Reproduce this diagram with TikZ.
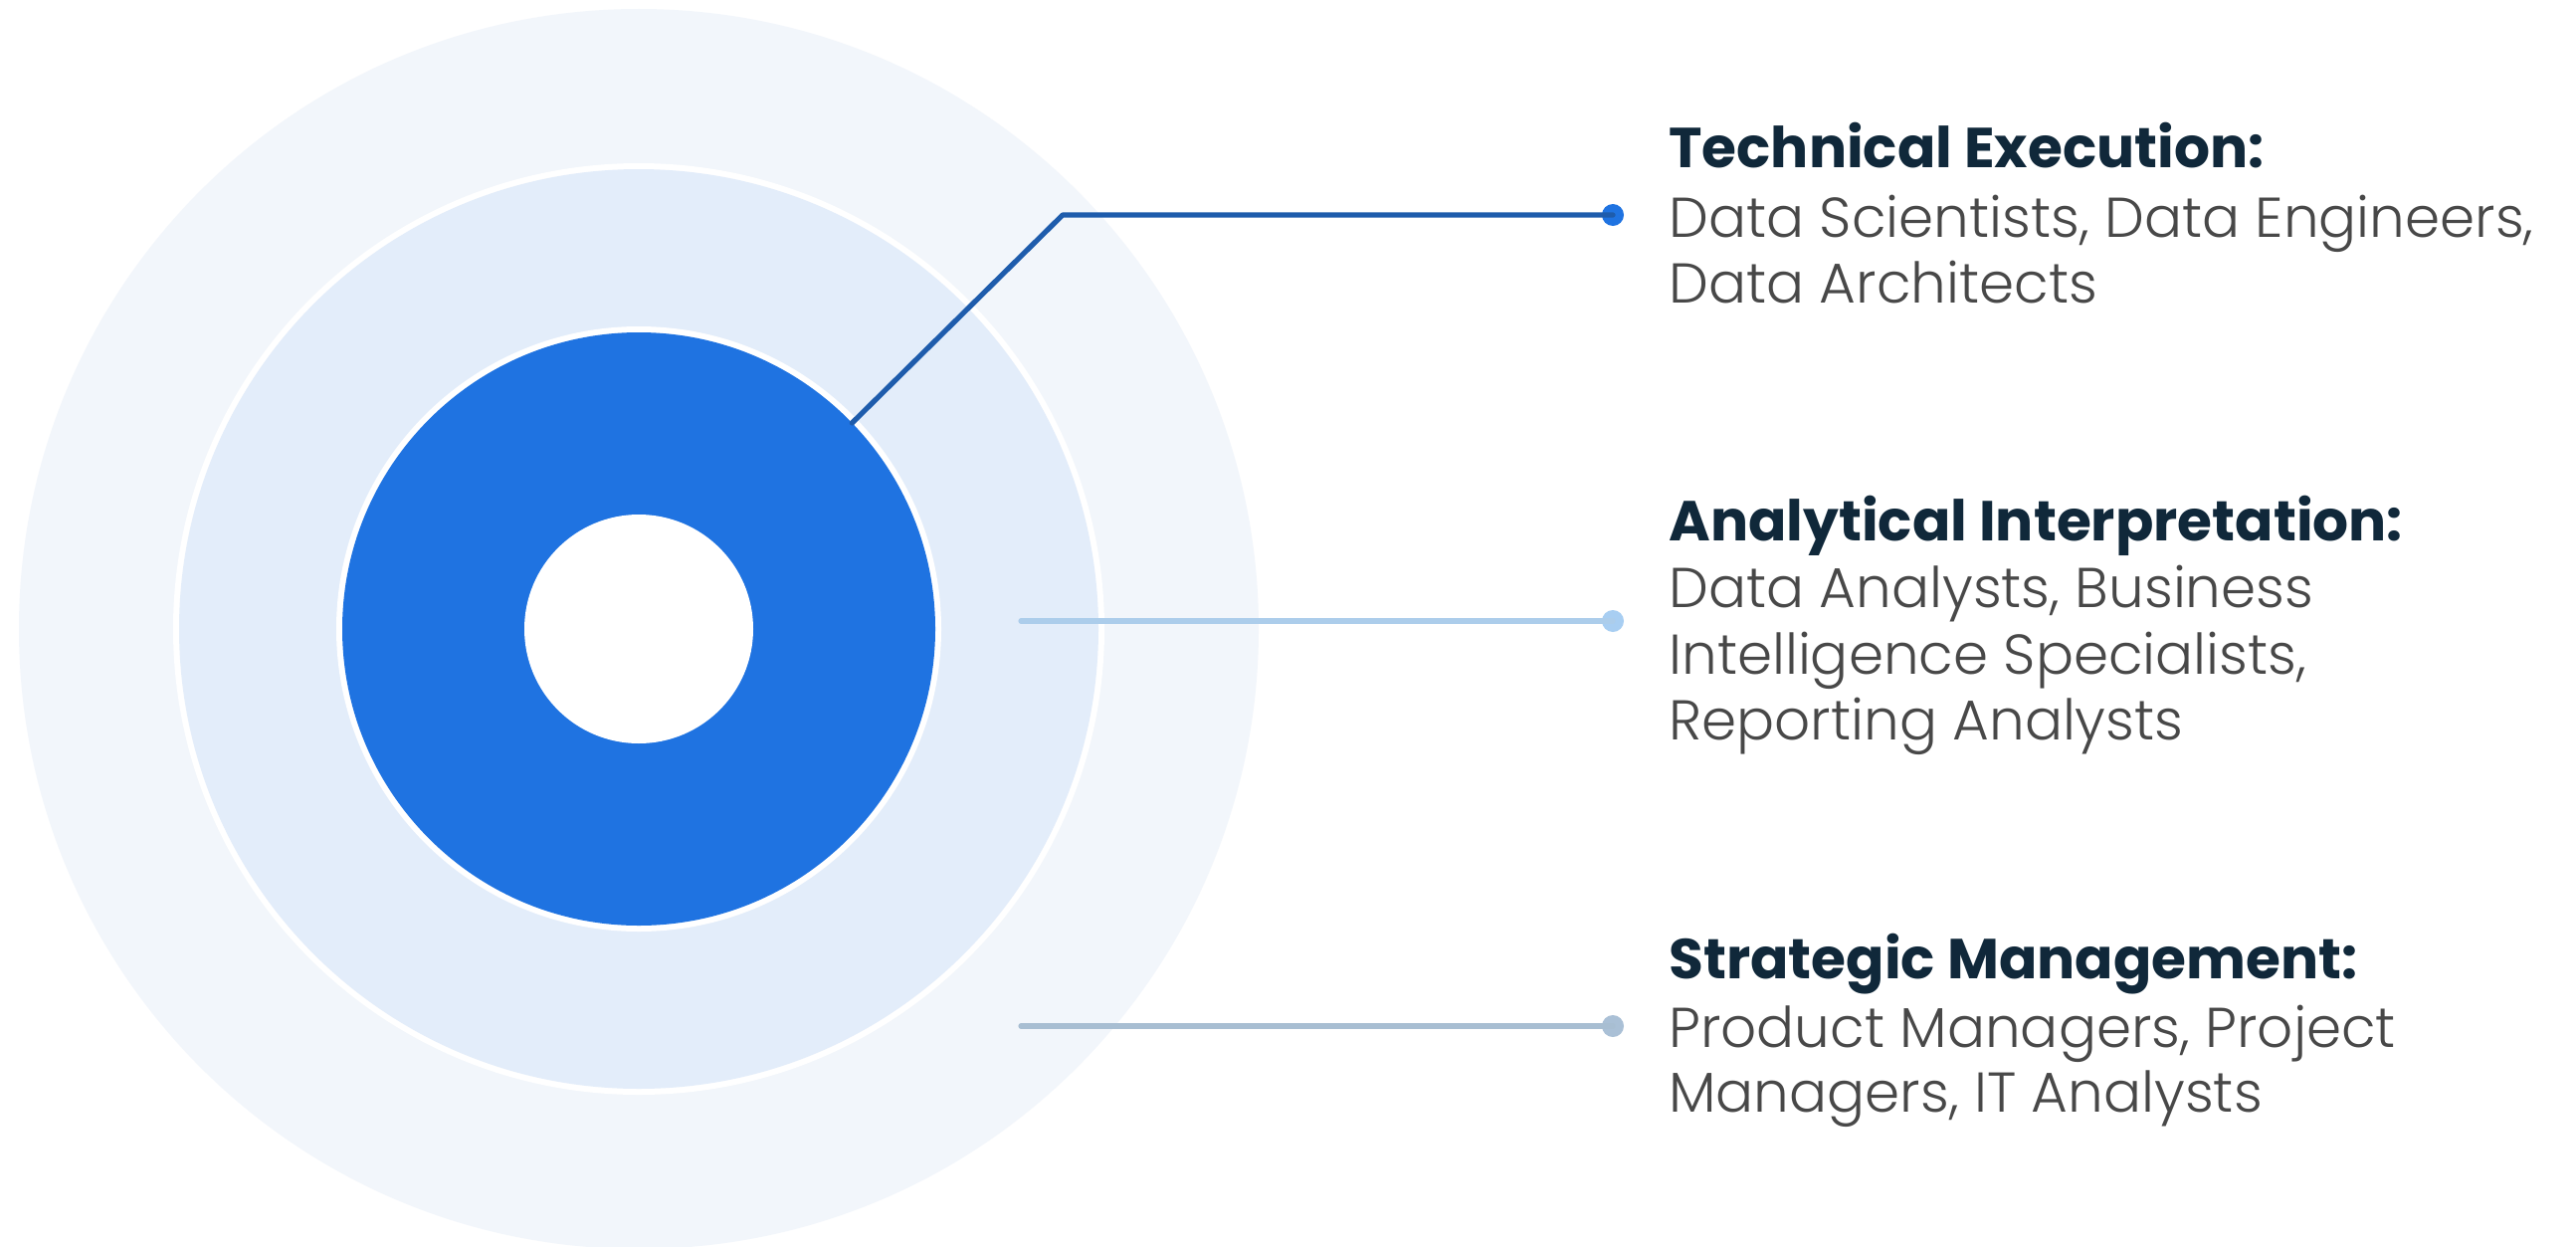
\documentclass[tikz,border=0pt]{standalone}
\usepackage{fontspec}
\setmainfont{Poppins}
\newfontfamily\bodyfont{Poppins}[UprightFont=* Light]
\usetikzlibrary{calc}
\definecolor{outerc}{RGB}{242,246,251}
\definecolor{midc}{RGB}{227,237,250}
\definecolor{corec}{RGB}{31,115,225}
\definecolor{darkln}{RGB}{30,92,172}
\definecolor{anaLn}{RGB}{172,205,235}
\definecolor{anaDot}{RGB}{168,206,242}
\definecolor{strLn}{RGB}{168,190,210}
\definecolor{strDot}{RGB}{170,192,214}
\definecolor{titlec}{RGB}{16,40,58}
\definecolor{bodyc}{RGB}{72,72,72}
\tikzset{
  titletext/.style={anchor=base west, inner sep=0pt, text=titlec, font=\fontsize{28.3}{31}\selectfont\bfseries},
  bodytext/.style={anchor=base west, inner sep=0pt, text=bodyc, font=\fontsize{28.2}{31}\bodyfont},
  leaddot/.style={circle, inner sep=0pt, minimum size=11pt},
  leader/.style={line width=2.6pt, line cap=round}
}
\begin{document}
\begin{tikzpicture}[x=0.5pt, y=-0.5pt]
\useasboundingbox (0,0) rectangle (2589,1252);
\fill[white] (0,0) rectangle (2589,1252);
% rings
\coordinate (ctr) at (642,632);
\fill[outerc] (ctr) circle[radius=623];
\fill[white] (ctr) circle[radius=468];
\fill[midc] (ctr) circle[radius=462];
\fill[white] (ctr) circle[radius=304];
\fill[corec] (ctr) circle[radius=298];
\fill[white] (ctr) circle[radius=115];
% leader starts
\coordinate (teStart) at ($(ctr)+(-44:298)$);
\coordinate (teBend) at (1068,216);
\coordinate (anStart) at (1026,624);
\coordinate (stStart) at (1026,1031);
% dots
\node[leaddot, fill=corec] (teDot) at (1621,216) {};
\node[leaddot, fill=anaDot] (anDot) at (1621,624) {};
\node[leaddot, fill=strDot] (stDot) at (1621,1031) {};
% leaders
\draw[leader, darkln, line join=round] (teStart) -- (teBend) -- (teDot.center);
\draw[leader, anaLn] (anStart) -- (anDot.center);
\draw[leader, strLn] (stStart) -- (stDot.center);
% texts
\node[titletext] (teTitle) at (1677,168) {Technical Execution:};
\node[bodytext] (teL1) at (1677,238) {Data Scientists, Data Engineers,};
\node[bodytext] (teL2) at (1677,304) {Data Architects};
\node[titletext] (anTitle) at (1677,543) {Analytical Interpretation:};
\node[bodytext] (anL1) at (1677,610) {Data Analysts, Business};
\node[bodytext] (anL2) at (1677,677) {Intelligence Specialists,};
\node[bodytext] (anL3) at (1677,743) {Reporting Analysts};
\node[titletext] (stTitle) at (1677,983) {Strategic Management:};
\node[bodytext] (stL1) at (1677,1052) {Product Managers, Project};
\node[bodytext] (stL2) at (1677,1117) {Managers, IT Analysts};
\end{tikzpicture}
\end{document}
